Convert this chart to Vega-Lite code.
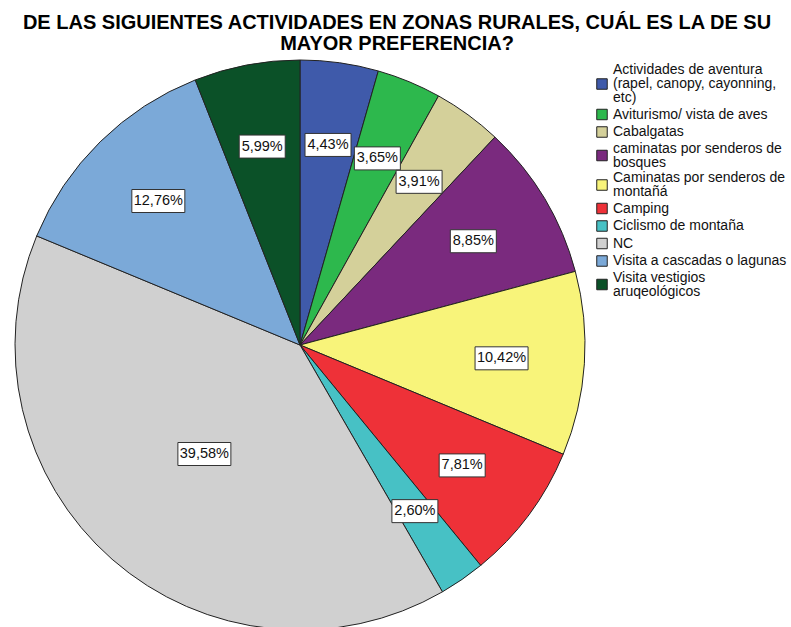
{
  "$schema": "https://vega.github.io/schema/vega-lite/v6.json",
  "width": 600,
  "height": 574,
  "autosize": {"type": "none"},
  "padding": {"left": 0, "top": 58, "right": 191, "bottom": 0},
  "background": "white",
  "title": {
    "text": ["DE LAS SIGUIENTES ACTIVIDADES EN ZONAS RURALES, CUÁL ES LA DE SU", "MAYOR PREFERENCIA?"],
    "font": "Liberation Sans",
    "fontSize": 20,
    "fontWeight": "bold",
    "color": "#000000",
    "anchor": "middle",
    "dx": 97,
    "offset": 4,
    "lineHeight": 21
  },
  "config": {"view": {"stroke": null}},
  "data": {
    "values": [
      {"cat": "Actividades de aventura (rapel, canopy, cayonning, etc)", "pct": 4.43, "orden": 1},
      {"cat": "Aviturismo/ vista de aves", "pct": 3.65, "orden": 2},
      {"cat": "Cabalgatas", "pct": 3.91, "orden": 3},
      {"cat": "caminatas por senderos de bosques", "pct": 8.85, "orden": 4},
      {"cat": "Caminatas por senderos de montañá", "pct": 10.42, "orden": 5},
      {"cat": "Camping", "pct": 7.81, "orden": 6},
      {"cat": "Ciclismo de montaña", "pct": 2.60, "orden": 7},
      {"cat": "NC", "pct": 39.58, "orden": 8},
      {"cat": "Visita a cascadas o lagunas", "pct": 12.76, "orden": 9},
      {"cat": "Visita vestigios aruqeológicos", "pct": 5.99, "orden": 10}
    ]
  },
  "transform": [
    {"window": [{"op": "sum", "field": "pct", "as": "cum"}], "sort": [{"field": "orden"}], "frame": [null, 0]},
    {"calculate": "(datum.cum - datum.pct / 2) / 100 * 2 * PI", "as": "ang"},
    {"calculate": "datum.pct > 30 ? 145 : 202", "as": "lr"},
    {"calculate": "sin(datum.ang) * datum.lr", "as": "lx"},
    {"calculate": "cos(datum.ang) * datum.lr", "as": "ly"},
    {"calculate": "replace(format(datum.pct, '.2f'), '.', ',') + '%'", "as": "etiqueta"}
  ],
  "layer": [
    {
      "mark": {"type": "arc", "outerRadius": 285, "stroke": "#222222", "strokeWidth": 1},
      "encoding": {
        "theta": {"field": "pct", "type": "quantitative", "stack": true},
        "order": {"field": "orden", "type": "quantitative"},
        "color": {
          "field": "cat",
          "type": "nominal",
          "sort": null,
          "scale": {
            "domain": [
              "Actividades de aventura (rapel, canopy, cayonning, etc)",
              "Aviturismo/ vista de aves",
              "Cabalgatas",
              "caminatas por senderos de bosques",
              "Caminatas por senderos de montañá",
              "Camping",
              "Ciclismo de montaña",
              "NC",
              "Visita a cascadas o lagunas",
              "Visita vestigios aruqeológicos"
            ],
            "range": ["#3f5aaa", "#2db84d", "#d4d09a", "#7a2a7e", "#f8f47a", "#ee3138", "#47c1c5", "#d0d0d0", "#7ba9d8", "#0b5128"]
          },
          "legend": {
            "title": null,
            "orient": "none",
            "legendX": 595,
            "legendY": 5,
            "symbolType": "square",
            "symbolSize": 110,
            "symbolStrokeColor": "#222222",
            "symbolStrokeWidth": 1,
            "symbolOpacity": 1,
            "labelFont": "Liberation Sans",
            "labelFontSize": 14,
            "labelColor": "#111111",
            "labelLimit": 200,
            "labelOffset": 4,
            "rowPadding": 1.5,
            "labelExpr": "datum.label == 'Actividades de aventura (rapel, canopy, cayonning, etc)' ? ['Actividades de aventura', '(rapel, canopy, cayonning,', 'etc)'] : datum.label == 'caminatas por senderos de bosques' ? ['caminatas por senderos de', 'bosques'] : datum.label == 'Caminatas por senderos de montañá' ? ['Caminatas por senderos de', 'montañá'] : datum.label == 'Visita vestigios aruqeológicos' ? ['Visita vestigios', 'aruqeológicos'] : datum.label",
            "encode": {
              "labels": {
                "update": {
                  "lineHeight": {"value": 14}
                }
              },
              "symbols": {
                "update": {
                  "shape": {"signal": "datum.label == 'Actividades de aventura (rapel, canopy, cayonning, etc)' ? 'M-1,1.672H1V3.672H-1Z' : (datum.label == 'caminatas por senderos de bosques' || datum.label == 'Caminatas por senderos de montañá' || datum.label == 'Visita vestigios aruqeológicos') ? 'M-1,0.336H1V2.336H-1Z' : 'square'"}
                }
              }
            }
          }
        }
      }
    },
    {
      "mark": {"type": "point", "filled": true, "fill": "white", "stroke": "#333333", "strokeWidth": 1, "opacity": 1},
      "encoding": {
        "x": {"field": "lx", "type": "quantitative", "scale": {"domain": [-300, 300], "nice": false, "zero": false}, "axis": null},
        "y": {"field": "ly", "type": "quantitative", "scale": {"domain": [-287, 287], "nice": false, "zero": false}, "axis": null},
        "shape": {"condition": {"test": "datum.pct >= 10", "value": "M-1,-0.434H1V0.434H-1Z"}, "value": "M-1,-0.5H1V0.5H-1Z"},
        "size": {"condition": {"test": "datum.pct >= 10", "value": 2809}, "value": 2116}
      }
    },
    {
      "mark": {"type": "text", "font": "Liberation Sans", "fontSize": 14.5, "color": "#111111"},
      "encoding": {
        "x": {"field": "lx", "type": "quantitative", "scale": {"domain": [-300, 300], "nice": false, "zero": false}, "axis": null},
        "y": {"field": "ly", "type": "quantitative", "scale": {"domain": [-287, 287], "nice": false, "zero": false}, "axis": null},
        "text": {"field": "etiqueta"}
      }
    }
  ]
}
